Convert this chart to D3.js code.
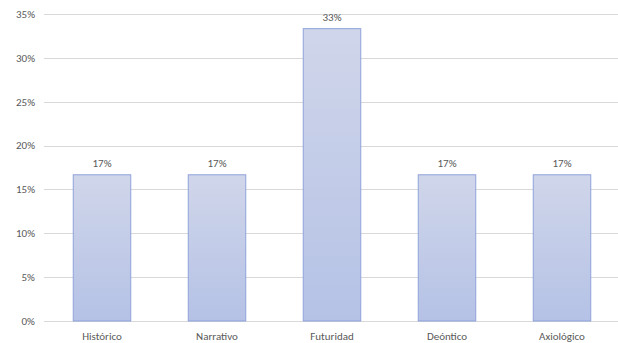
<!DOCTYPE html>
<html><head><meta charset="utf-8">
<script src="https://cdn.jsdelivr.net/npm/d3@7"></script>
<style>body{margin:0;background:#fff}svg{display:block}</style>
</head><body>
<svg id="c" width="618" height="343"></svg>
<script>
const categories = ["Histórico","Narrativo","Futuridad","Deóntico","Axiológico"];
const values = [0.1667,0.1667,0.3333,0.1667,0.1667];
const valueLabels = ["17%","17%","33%","17%","17%"];
const yTicks = [0,0.05,0.10,0.15,0.20,0.25,0.30,0.35];

const svg = d3.select("#c");
const font = "Calibri, Carlito, 'Open Sans', 'Liberation Sans', sans-serif";
const x = d3.scaleBand().domain(categories).range([44.5,619.5]).paddingInner(0.5).paddingOuter(0.25);
const y = d3.scaleLinear().domain([0,0.35]).range([321,14]);

const defs = svg.append("defs");
const g = defs.append("linearGradient").attr("id","bg").attr("x1",0).attr("y1",0).attr("x2",0).attr("y2",1);
g.append("stop").attr("offset","0%").attr("stop-color","#d0d6ea");
g.append("stop").attr("offset","100%").attr("stop-color","#b5c2e6");

svg.append("g").selectAll("line").data(yTicks).join("line")
  .attr("x1",44).attr("x2",618).attr("y1",d=>Math.round(y(d))+0.5).attr("y2",d=>Math.round(y(d))+0.5)
  .attr("stroke","#d9d9d9").attr("stroke-width",1);

svg.append("g").selectAll("text").data(yTicks).join("text")
  .attr("x",35).attr("y",d=>y(d)).attr("dy","0.35em").attr("text-anchor","end")
  .attr("font-family",font).attr("font-size",11).attr("fill","#595959")
  .text(d3.format(".0%"));

svg.append("g").selectAll("rect").data(values).join("rect")
  .attr("x",(d,i)=>x(categories[i])).attr("width",x.bandwidth())
  .attr("y",d=>y(d)).attr("height",d=>y(0)-y(d))
  .attr("fill","url(#bg)").attr("stroke","#8fa2da").attr("stroke-width",1);

svg.append("g").selectAll("text").data(values).join("text")
  .attr("x",(d,i)=>x(categories[i])+x.bandwidth()/2).attr("y",d=>y(d)-8)
  .attr("text-anchor","middle")
  .attr("font-family",font).attr("font-size",11).attr("fill","#595959")
  .text((d,i)=>valueLabels[i]);

svg.append("g").selectAll("text").data(categories).join("text")
  .attr("x",d=>x(d)+x.bandwidth()/2).attr("y",y(0)+15).attr("dy","0.35em")
  .attr("text-anchor","middle")
  .attr("font-family",font).attr("font-size",11).attr("fill","#595959")
  .text(d=>d);
</script>
</body></html>
